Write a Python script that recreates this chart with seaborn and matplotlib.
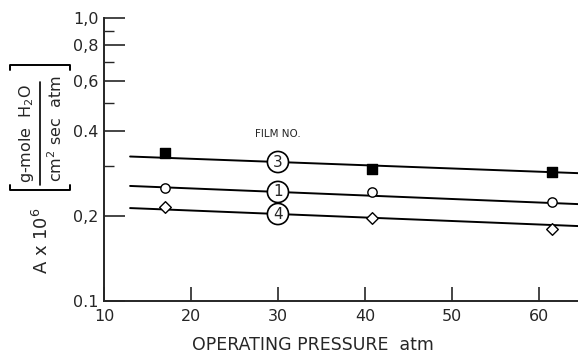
import matplotlib
matplotlib.use("Agg")
import matplotlib.pyplot as plt
import seaborn as sns
import pandas as pd
import numpy as np
from matplotlib.lines import Line2D
from matplotlib.ticker import FixedLocator, NullFormatter

# ---- data ----
pressure = [17.0, 40.8, 61.5]
film3 = [0.333, 0.293, 0.286]
film1 = [0.250, 0.242, 0.224]
film4 = [0.214, 0.197, 0.180]

fit_x = [13.0, 64.5]
fit3 = [0.324, 0.283]
fit1 = [0.255, 0.220]
fit4 = [0.213, 0.184]

film_labels = ["3", "1", "4"]
label_x = 30.0

y_ticks = [0.1, 0.2, 0.4, 0.6, 0.8, 1.0]
y_ticklabels = ["0.1", "0,2", "0.4", "0,6", "0,8", "1,0"]
y_minor = [0.3, 0.5, 0.7, 0.9]
x_ticks = [10, 20, 30, 40, 50, 60]

sns.set_style("ticks")
plt.rcParams['font.family'] = ['DejaVu Sans']

W, H = 578, 357
fig = plt.figure(figsize=(W / 100, H / 100), dpi=100)
ax = fig.add_axes([104/W, 1-301/H, 1-104/W, (301-18)/H])

pts = pd.DataFrame({
    "P": pressure * 3,
    "A": film3 + film1 + film4,
    "film": ["3"] * 3 + ["1"] * 3 + ["4"] * 3,
})
fits = pd.DataFrame({
    "P": fit_x * 3,
    "A": fit3 + fit1 + fit4,
    "film": ["3"] * 2 + ["1"] * 2 + ["4"] * 2,
})

sns.lineplot(data=fits, x="P", y="A", units="film", estimator=None,
             color="black", lw=1.4, ax=ax, zorder=2)

styles = {"3": ("s", "black"), "1": ("o", "white"), "4": ("D", "white")}
for f, (m, fc) in styles.items():
    sub = pts[pts.film == f]
    sns.scatterplot(data=sub, x="P", y="A", marker=m, s=45 if m != "D" else 35,
                    facecolor=fc, edgecolor="black", linewidth=1.0, ax=ax,
                    zorder=3)

ax.set_yscale("log")
ax.set_xlim(10, 64.5)
ax.set_ylim(0.1, 1.0)

# circled film number labels on the fit lines
for lab, fyv in zip(film_labels, [fit3, fit1, fit4]):
    yv = np.exp(np.interp(label_x, fit_x, np.log(fyv)))
    ax.text(label_x, yv, lab, ha="center", va="center", fontsize=11,
            zorder=4,
            bbox=dict(boxstyle="circle,pad=0.2", fc="white", ec="black", lw=1.2))

ax.text(30, 0.375, "FILM NO.", ha="center", va="bottom", fontsize=7.5)

ax.yaxis.set_major_locator(FixedLocator(y_ticks))
ax.set_yticklabels(y_ticklabels)
ax.yaxis.set_minor_locator(FixedLocator(y_minor))
ax.yaxis.set_minor_formatter(NullFormatter())
ax.set_xticks(x_ticks)
ax.set_xticklabels([str(v) for v in x_ticks])

ax.tick_params(axis="y", which="major", direction="in", length=15, width=1.2,
               labelsize=11.5, pad=4)
ax.tick_params(axis="y", which="minor", direction="in", length=7, width=1.0)
ax.tick_params(axis="x", which="major", direction="in", length=10, width=1.2,
               labelsize=11.5, pad=6)
ax.tick_params(axis="x", which="minor", bottom=False)

for s in ["top", "right"]:
    ax.spines[s].set_visible(False)
for s in ["left", "bottom"]:
    ax.spines[s].set_linewidth(1.4)

ax.set_xlabel("OPERATING PRESSURE  atm", fontsize=12.5)
ax.xaxis.set_label_coords(0.44, -0.125)
ax.set_ylabel("")

# ---- y-axis label built from pieces (pixel positions -> figure fraction) ----
def fx(px):
    return px / W

def fy(py):
    return 1 - py / H

fig.text(fx(42), fy(241), r"A x 10$^{6}$", rotation=90, ha="center",
         va="center", fontsize=13)
fig.text(fx(27), fy(134), "g-mole  H$_2$O", rotation=90, ha="center",
         va="center", fontsize=11.5)
fig.text(fx(56), fy(129), "cm$^2$ sec  atm", rotation=90, ha="center",
         va="center", fontsize=11.5)
# fraction bar
fig.add_artist(Line2D([fx(40), fx(40)], [fy(82), fy(185)], color="black",
                      lw=1.2))
# brackets (rotated "[ ]")
for yb, d in [(65, 5), (190, -5)]:
    fig.add_artist(Line2D([fx(10), fx(10), fx(70), fx(70)],
                          [fy(yb + d), fy(yb), fy(yb), fy(yb + d)],
                          color="black", lw=1.4))

fig.savefig("out.png", dpi=100)
